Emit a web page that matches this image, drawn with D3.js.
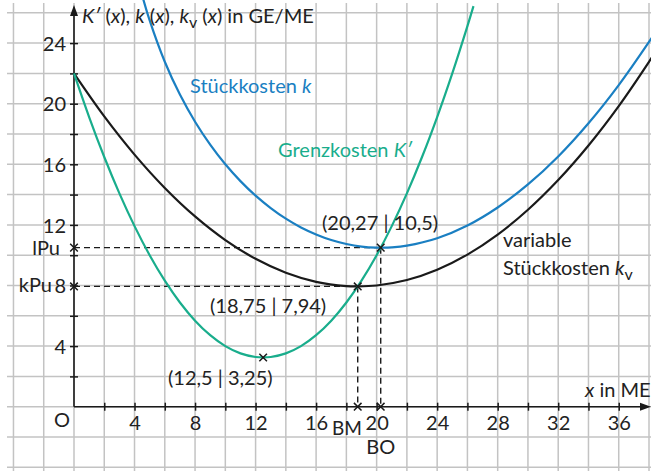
<!DOCTYPE html>
<html><head><meta charset="utf-8">
<script src="https://cdn.jsdelivr.net/npm/d3@7"></script>
<style>
body{margin:0;background:#fff}
svg{display:block}
text{font-family:Lato,"Open Sans",sans-serif;}
</style>
</head><body>
<svg id="c" width="651" height="471"></svg>
<script>
// ---- data ----
const grenzX = [0,1,2,3,4,5,6,7,8,9,10,11,12,12.5,13,14,15,16,17,18,19,20,21,22,23,24,25,26,26.4];
const grenzY = [22,19.12,16.48,14.08,11.92,10,8.32,6.88,5.68,4.72,4,3.52,3.28,3.25,3.28,3.52,4,4.72,5.68,6.88,8.32,10,11.92,14.08,16.48,19.12,22,25.12,26.44];
const varX = [0,2,4,6,8,10,12,14,16,18,18.75,20,22,24,26,28,30,32,34,36,38,38.5];
const varY = [22,19.16,16.64,14.44,12.56,11,9.76,8.84,8.24,7.96,7.94,8,8.36,9.04,10.04,11.36,13,14.96,17.24,19.84,22.76,23.54];
const stueckX = [4.5,5,6,7,8,9,10,11,12,13,14,15,16,17,18,19,20,20.27,21,22,24,26,28,30,32,34,36,38,38.5];
const stueckY = [27.17,25.5,22.77,20.6,18.81,17.3,16,14.89,13.93,13.11,12.41,11.83,11.37,11,10.74,10.57,10.5,10.5,10.52,10.63,11.12,11.96,13.15,14.67,16.52,18.71,21.23,24.08,24.84];
const xTicks = [2,4,6,8,10,12,14,16,18,20,22,24,26,28,30,32,34,36];
const xLabels = [4,8,12,16,20,24,28,32,36];
const yTicks = [2,4,6,8,10,12,14,16,18,20,22,24];
const yLabels = [4,8,12,16,20,24];
const markPts = [[12.5,3.25],[18.75,7.94],[20.27,10.5],[0,10.5],[0,7.94],[18.75,0],[20.27,0]];
const bmX = 18.75, boX = 20.27, kPu = 7.94, lPu = 10.5;

const blue = "#1a7fc2", green = "#19ad8c", black = "#1a1a1a", grid = "#c3c3c3";
const FS = 20, SUB = 16;

const svg = d3.select("#c");
const x = d3.scaleLinear().domain([0,38]).range([74,649]);
const y = d3.scaleLinear().domain([0,26]).range([406.7,12.8]);

// grid
const g = svg.append("g");
d3.range(-4,39,2).forEach(v=>{
  g.append("line").attr("x1",x(v)).attr("x2",x(v)).attr("y1",3).attr("y2",471)
   .attr("stroke",grid).attr("stroke-width",1.5);
});
d3.range(-4,27,2).forEach(v=>{
  g.append("line").attr("x1",7).attr("x2",651).attr("y1",y(v)).attr("y2",y(v))
   .attr("stroke",grid).attr("stroke-width",1.5);
});

// axes
const xa = svg.append("g").attr("transform",`translate(0,${y(0)})`)
  .call(d3.axisBottom(x).tickValues(xTicks).tickSize(4).tickFormat(d=>xLabels.includes(d)?d:""));
xa.select(".domain").remove();
xa.selectAll(".tick line").attr("y1",-4).attr("y2",4).attr("stroke",black).attr("stroke-width",1.5);
xa.selectAll(".tick text").attr("y",23.3).attr("dy",null).attr("font-size",FS).attr("fill","#222").attr("font-family","Lato");

const ya = svg.append("g").attr("transform",`translate(${x(0)},0)`)
  .call(d3.axisLeft(y).tickValues(yTicks).tickSize(4).tickFormat(d=>yLabels.includes(d)?d:""));
ya.select(".domain").remove();
ya.selectAll(".tick line").attr("x1",-4).attr("x2",4).attr("stroke",black).attr("stroke-width",1.5);
ya.selectAll(".tick text").attr("x",-8).attr("dy","0.36em").attr("font-size",FS).attr("fill","#222").attr("font-family","Lato");

svg.append("line").attr("x1",x(0)).attr("x2",643).attr("y1",y(0)).attr("y2",y(0)).attr("stroke",black).attr("stroke-width",1.6);
svg.append("path").attr("d",`M651,${y(0)} L640,${y(0)-4} L640,${y(0)+4} Z`).attr("fill",black);
svg.append("line").attr("x1",x(0)).attr("x2",x(0)).attr("y1",y(0)).attr("y2",14).attr("stroke",black).attr("stroke-width",1.6);
svg.append("path").attr("d",`M${x(0)},5 L${x(0)-4},16 L${x(0)+4},16 Z`).attr("fill",black);

// dashed helper lines
const dash = svg.append("g").attr("stroke",black).attr("stroke-width",1.4).attr("stroke-dasharray","6,4").attr("fill","none");
dash.append("line").attr("x1",x(0)).attr("x2",x(boX)).attr("y1",y(lPu)).attr("y2",y(lPu));
dash.append("line").attr("x1",x(0)).attr("x2",x(bmX)).attr("y1",y(kPu)).attr("y2",y(kPu));
dash.append("line").attr("x1",x(bmX)).attr("x2",x(bmX)).attr("y1",y(kPu)).attr("y2",y(0));
dash.append("line").attr("x1",x(boX)).attr("x2",x(boX)).attr("y1",y(lPu)).attr("y2",y(0));

// curves
svg.append("clipPath").attr("id","cp").append("rect").attr("x",0).attr("y",0).attr("width",651).attr("height",471);
const line = d3.line().curve(d3.curveCatmullRom.alpha(0.5));
function curve(xs,ys,col){
  svg.append("path").attr("clip-path","url(#cp)")
    .attr("d",line(xs.map((v,i)=>[x(v),y(ys[i])])))
    .attr("fill","none").attr("stroke",col).attr("stroke-width",2.2);
}
curve(varX,varY,black);
curve(stueckX,stueckY,blue);
curve(grenzX,grenzY,green);

// markers
markPts.forEach(([px,py])=>{
  const cx=x(px), cy=y(py), s=3.8;
  svg.append("path").attr("d",`M${cx-s},${cy-s}L${cx+s},${cy+s}M${cx-s},${cy+s}L${cx+s},${cy-s}`)
    .attr("stroke",black).attr("stroke-width",1.5);
});

// texts
function t(txt,xx,yy,opt={}){
  return svg.append("text").attr("x",xx).attr("y",yy).attr("font-size",opt.size||FS)
    .attr("fill",opt.fill||"#222").attr("text-anchor",opt.anchor||"start").text(txt);
}
t("O",70,427,{anchor:"end"});
t("lPu",60,255,{anchor:"end"});
t("kPu",52,292,{anchor:"end"});
t("BM",362,435,{anchor:"end",size:19});
t("BO",x(boX),454,{anchor:"middle"});
t("(20,27 | 10,5)",322,230);
t("(18,75 | 7,94)",210,313);
t("(12,5 | 3,25)",168,385);

// axis title
const at = svg.append("text").attr("x",82).attr("y",23).attr("font-size",FS).attr("fill","#222");
at.append("tspan").attr("font-style","italic").text("K′");
at.append("tspan").text(" (");
at.append("tspan").attr("font-style","italic").text("x");
at.append("tspan").text("), ");
at.append("tspan").attr("font-style","italic").text("k");
at.append("tspan").text(" (");
at.append("tspan").attr("font-style","italic").text("x");
at.append("tspan").text("), ");
at.append("tspan").attr("font-style","italic").text("k");
at.append("tspan").attr("dy",5).attr("font-size",SUB).text("v");
at.append("tspan").attr("dy",-5).text(" (");
at.append("tspan").attr("font-style","italic").text("x");
at.append("tspan").text(") in GE/ME");

const xt = svg.append("text").attr("x",585).attr("y",397).attr("font-size",FS).attr("fill","#222");
xt.append("tspan").attr("font-style","italic").text("x");
xt.append("tspan").text(" in ME");

const sk = svg.append("text").attr("x",190).attr("y",93).attr("font-size",FS).attr("fill",blue);
sk.append("tspan").text("Stückkosten ");
sk.append("tspan").attr("font-style","italic").text("k");

const gk = svg.append("text").attr("x",278).attr("y",157).attr("font-size",FS).attr("fill",green);
gk.append("tspan").text("Grenzkosten ");
gk.append("tspan").attr("font-style","italic").text("K′");

t("variable",503,247);
const vk = svg.append("text").attr("x",503).attr("y",275).attr("font-size",FS).attr("fill","#222");
vk.append("tspan").text("Stückkosten ");
vk.append("tspan").attr("font-style","italic").text("k");
vk.append("tspan").attr("dy",5).attr("font-size",SUB).text("v");
</script>
</body></html>
